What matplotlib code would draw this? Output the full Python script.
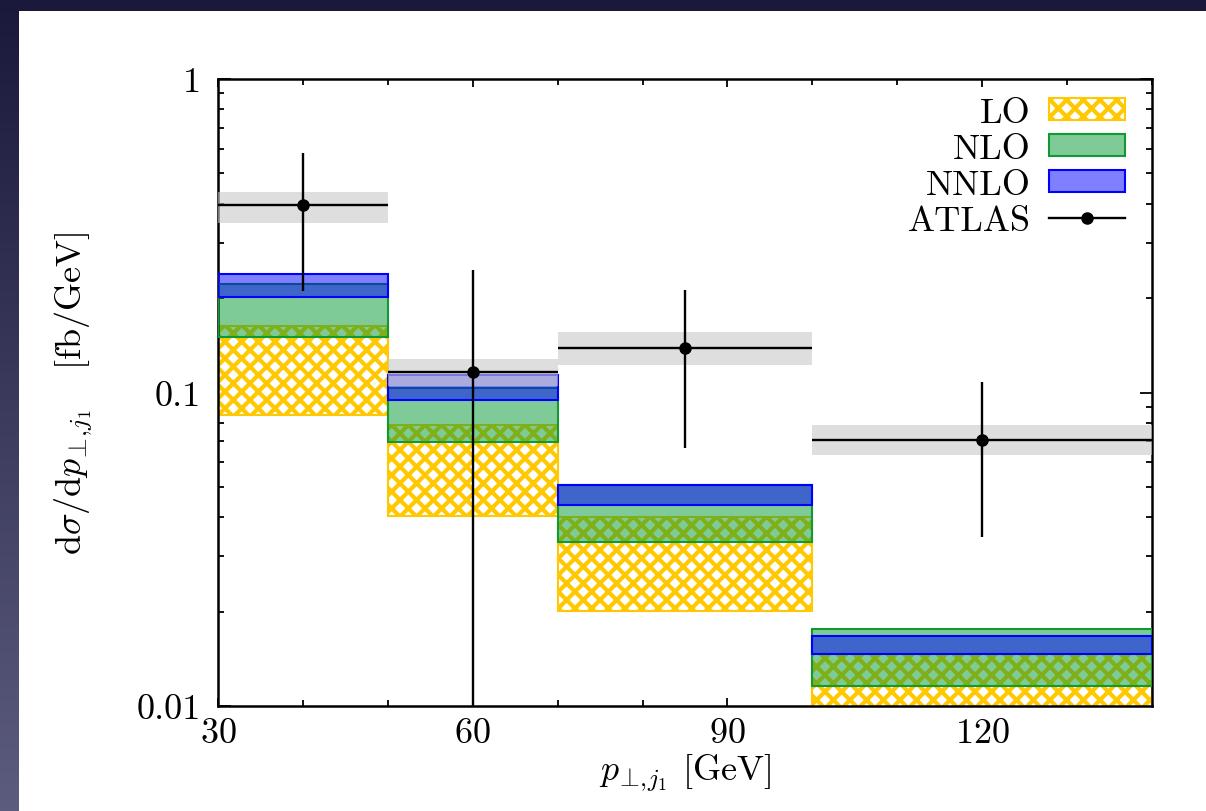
import numpy as np
import matplotlib
matplotlib.use("Agg")
import matplotlib.pyplot as plt
from matplotlib.patches import Patch, Rectangle
from matplotlib.lines import Line2D
from matplotlib.ticker import FixedLocator, FixedFormatter, MultipleLocator, LogLocator, NullFormatter

plt.rcParams["font.family"] = ["cmr10", "DejaVu Serif"]
plt.rcParams["mathtext.fontset"] = "cm"
plt.rcParams["axes.formatter.use_mathtext"] = True
plt.rcParams["hatch.linewidth"] = 3.0

# Bin edges in leading-jet transverse momentum [GeV]
bin_lo = [30, 50, 70, 100]
bin_hi = [50, 70, 100, 140]

# Theory predictions: lower / upper edge of scale-variation band [fb/GeV]
lo_min = [0.085, 0.0403, 0.0201, 0.0085]
lo_max = [0.163, 0.0785, 0.0400, 0.0146]
nlo_min = [0.150, 0.0693, 0.0333, 0.0116]
nlo_max = [0.222, 0.103, 0.0506, 0.0176]
nnlo_min = [0.202, 0.0944, 0.0437, 0.01465]
nnlo_max = [0.239, 0.114, 0.0506, 0.0167]

# ATLAS measurement
atlas_x = [40, 60, 85, 120]
atlas_y = [0.397, 0.116, 0.139, 0.0708]
atlas_up = [0.58, 0.245, 0.213, 0.108]
atlas_down = [0.21, 0.005, 0.0664, 0.0347]
atlas_sys_lo = [0.347, 0.105, 0.122, 0.0630]
atlas_sys_hi = [0.436, 0.128, 0.156, 0.0785]

x_ticks = [30, 60, 90, 120]
y_ticks = [0.01, 0.1, 1]
y_tick_labels = ["0.01", "0.1", "1"]

W, H = 1206, 812
fig = plt.figure(figsize=(W / 100, H / 100), dpi=100)

# slide backdrop with white panel
bg = fig.add_axes([0, 0, 1, 1], zorder=-10)
grad = np.linspace(0, 1, 256)[:, None]
c_top = np.array([26, 25, 60]) / 255
c_bot = np.array([92, 92, 126]) / 255
img = c_top[None, None, :] * (1 - grad[:, :, None]) + c_bot[None, None, :] * grad[:, :, None]
bg.imshow(np.repeat(img, 2, axis=1), aspect="auto", extent=[0, 1, 0, 1], origin="upper")
bg.add_patch(Rectangle((19 / W, 0), 1, (H - 12) / H, transform=bg.transAxes,
                       facecolor="white", edgecolor="none"))
bg.set_xlim(0, 1)
bg.set_ylim(0, 1)
bg.axis("off")

ax = fig.add_axes([218 / W, 1 - 707 / H, (1152 - 218) / W, (707 - 80) / H])
ax.set_facecolor("none")

left = np.array(bin_lo)
width = np.array(bin_hi) - left

gold = "#ffc800"
green_edge = "#119933"
green_face = (0.0, 0.6, 0.2, 0.5)
blue_edge = "#0000ff"
blue_face = (0.0, 0.0, 1.0, 0.5)

ax.bar(left, np.array(lo_max) - np.array(lo_min), bottom=lo_min, width=width, align="edge",
       facecolor="white", edgecolor=gold, hatch="xx", linewidth=1.5, zorder=2)
ax.bar(left, np.array(nlo_max) - np.array(nlo_min), bottom=nlo_min, width=width, align="edge",
       facecolor=green_face, edgecolor=green_edge, linewidth=1.5, zorder=3)
ax.bar(left, np.array(nnlo_max) - np.array(nnlo_min), bottom=nnlo_min, width=width, align="edge",
       facecolor=blue_face, edgecolor=blue_edge, linewidth=1.5, zorder=4)
ax.bar(left, np.array(atlas_sys_hi) - np.array(atlas_sys_lo), bottom=atlas_sys_lo, width=width,
       align="edge", facecolor="#c8c8c8", alpha=0.6, edgecolor="none", zorder=5)

ay = np.array(atlas_y)
xerr = width / 2
yerr = [ay - np.array(atlas_down), np.array(atlas_up) - ay]
ax.errorbar(atlas_x, atlas_y, xerr=xerr, yerr=yerr, fmt="o", color="black", ms=8,
            elinewidth=1.7, capsize=0, zorder=6)

ax.set_yscale("log")
ax.set_xlim(30, 140)
ax.set_ylim(0.01, 1)

ax.xaxis.set_major_locator(FixedLocator(x_ticks))
ax.xaxis.set_minor_locator(MultipleLocator(10))
ax.yaxis.set_major_locator(FixedLocator(y_ticks))
ax.yaxis.set_major_formatter(FixedFormatter(y_tick_labels))
ax.yaxis.set_minor_locator(LogLocator(base=10, subs=np.arange(2, 10)))
ax.yaxis.set_minor_formatter(NullFormatter())

ax.tick_params(which="both", direction="in", top=True, right=True, labelsize=26, colors="black")
ax.tick_params(axis="x", which="major", length=6, width=1.3, pad=8)
ax.tick_params(axis="y", which="major", length=9, width=1.3, pad=12)
ax.tick_params(which="minor", length=4, width=1.3)
for s in ax.spines.values():
    s.set_linewidth(1.8)

ax.set_xlabel(r"$p_{\!\bot\!,\!j_1}$ [GeV]", fontsize=26, labelpad=2)
ax.set_ylabel(r"$\mathrm{d}\sigma/\mathrm{d}p_{\!\bot\!,\!j_1}$   [fb/GeV]", fontsize=26, labelpad=30)

handles = [
    Patch(facecolor="white", edgecolor=gold, hatch="xx", linewidth=1.5),
    Patch(facecolor=green_face, edgecolor=green_edge, linewidth=1.5),
    Patch(facecolor=blue_face, edgecolor=blue_edge, linewidth=1.5),
    Line2D([], [], color="black", marker="o", ms=8, lw=1.7),
]
ax.legend(handles, ["LO", "NLO", "NNLO", "ATLAS"], loc="upper right", frameon=False,
          markerfirst=False, fontsize=26, handlelength=2.1, handleheight=0.55,
          labelspacing=0.12, handletextpad=0.5, borderaxespad=0.3, borderpad=0.2,
          bbox_to_anchor=(0.99, 1.0))

fig.savefig("out.png", dpi=100)
